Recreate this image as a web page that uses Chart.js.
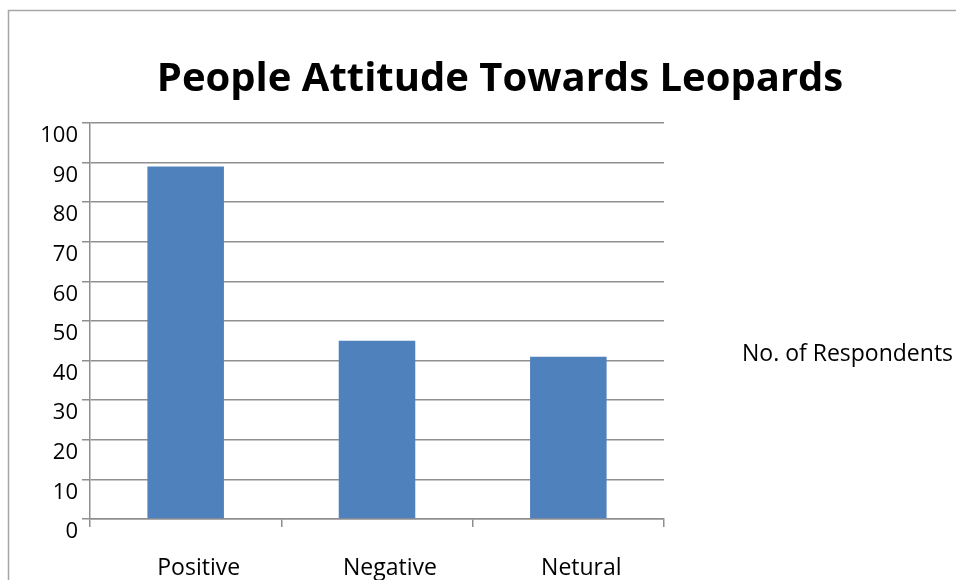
<!DOCTYPE html>
<html>
<head>
<meta charset="utf-8">
<script src="https://cdn.jsdelivr.net/npm/chart.js@4"></script>
<style>
  html, body { margin: 0; padding: 0; background: #fff; }
  #wrap { width: 956px; height: 580px; }
</style>
</head>
<body>
<div id="wrap"><canvas id="attitudeChart" width="956" height="580"></canvas></div>
<script>
var titleText = 'People Attitude Towards Leopards';
var categories = ['Positive', 'Negative', 'Netural'];
var respondents = [89, 45, 41];
var seriesName = 'No. of Respondents';

var fontFamily = '"Open Sans", Lato, sans-serif';
var gridColor = '#8f8f8f';

// frame, title and legend text are drawn by hand around the plot
var sideText = {
    id: 'sideText',
    beforeDraw: function (chart) {
        var ctx = chart.ctx;
        ctx.save();
        ctx.strokeStyle = '#a6a6a6';
        ctx.lineWidth = 1.5;
        ctx.beginPath();
        ctx.moveTo(8.5, 600);
        ctx.lineTo(8.5, 10.5);
        ctx.lineTo(970, 10.5);
        ctx.stroke();
        ctx.restore();
    },
    afterDraw: function (chart) {
        var ctx = chart.ctx;
        ctx.save();
        ctx.fillStyle = '#000';
        ctx.textBaseline = 'alphabetic';
        ctx.textAlign = 'center';
        ctx.font = 'bold 40px ' + fontFamily;
        ctx.fillText(titleText, 500, 91);
        ctx.textAlign = 'left';
        ctx.font = '23px ' + fontFamily;
        ctx.fillText(chart.data.datasets[0].label, 742, 361);
        ctx.restore();
    }
};

new Chart(document.getElementById('attitudeChart'), {
    type: 'bar',
    data: {
        labels: categories,
        datasets: [{
            label: seriesName,
            data: respondents,
            backgroundColor: '#4f81bd',
            borderWidth: 0,
            categoryPercentage: 1,
            barPercentage: 0.4
        }]
    },
    options: {
        responsive: false,
        animation: false,
        layout: { padding: { top: 123, right: 292, left: 0, bottom: 0 } },
        plugins: {
            legend: { display: false },
            title: { display: false },
            tooltip: { enabled: false }
        },
        scales: {
            y: {
                min: 0,
                max: 100,
                ticks: {
                    stepSize: 10,
                    color: '#000',
                    padding: 4,
                    labelOffset: 13,
                    font: { family: fontFamily, size: 22 }
                },
                grid: { color: gridColor, lineWidth: 1.5, tickLength: 8 },
                border: { color: gridColor, width: 1.5 },
                afterFit: function (scale) { scale.width = 90; }
            },
            x: {
                ticks: {
                    color: '#000',
                    padding: 28,
                    labelOffset: 13,
                    font: { family: fontFamily, size: 23 }
                },
                grid: {
                    offset: true,
                    drawOnChartArea: false,
                    color: gridColor,
                    lineWidth: 1.5,
                    tickLength: 8
                },
                border: { color: gridColor, width: 1.5 },
                afterFit: function (scale) { scale.height = 61; }
            }
        }
    },
    plugins: [sideText]
});
</script>
</body>
</html>
